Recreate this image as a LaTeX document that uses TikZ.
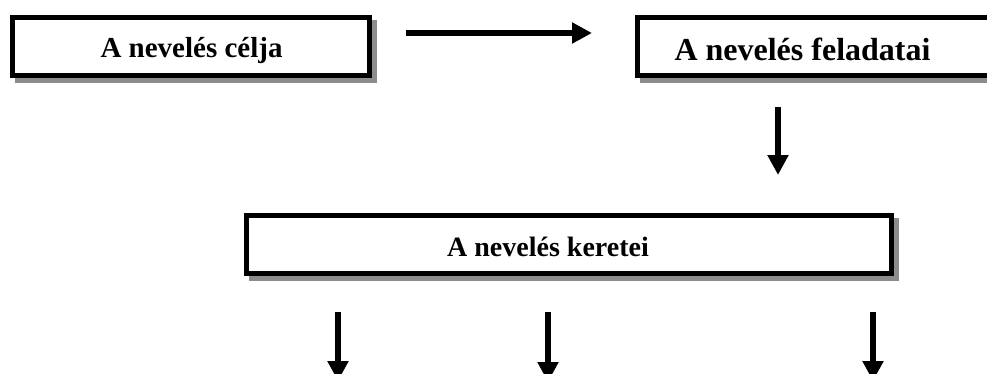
\documentclass[tikz,border=0pt]{standalone}
\usepackage{fontspec}
\setmainfont{Liberation Serif}
\usetikzlibrary{arrows.meta,backgrounds}
\definecolor{shadowgray}{HTML}{8C8C8C}
\begin{document}
\begin{tikzpicture}[x=1pt,y=-1pt,
  boxstyle/.style={draw=black, line width=5pt, fill=white, inner sep=0pt, minimum height=58pt},
  lbl/.style={font=\bfseries, anchor=base, inner sep=0pt},
  arr/.style={line width=6.5pt, -{Triangle[width=20pt,length=20pt]}},
  shadowfill/.style={fill=shadowgray}]
\useasboundingbox (0,0) rectangle (987,373);
\clip (0,0) rectangle (987,373);
% boxes
\node[boxstyle, minimum width=357pt] (b1) at (191,46.5) {};
\node[boxstyle, minimum width=362.5pt] (b2) at (818.75,46.5) {};
\node[boxstyle, minimum width=645pt] (b3) at (569,244.5) {};
% shadows
\begin{scope}[on background layer]
  \fill[shadowfill] ([shift={(5,5)}]b1.north west) rectangle ([shift={(5,5)}]b1.south east);
  \fill[shadowfill] ([shift={(5,5)}]b2.north west) rectangle ([shift={(5,5)}]b2.south east);
  \fill[shadowfill] ([shift={(5,5)}]b3.north west) rectangle ([shift={(5,5)}]b3.south east);
\end{scope}
% labels
\node[lbl, font=\fontsize{29}{34}\selectfont\bfseries] (t1) at (191.5,57.5) {A nevelés célja};
\node[lbl, font=\fontsize{32}{38}\selectfont\bfseries] (t2) at (802.5,60.5) {A nevelés feladatai};
\node[lbl, font=\fontsize{28}{33}\selectfont\bfseries] (t3) at (548,256) {A nevelés keretei};
% arrow end points
\coordinate (r1) at (406,33);
\coordinate (r2) at (592,33);
\coordinate (d1) at (778,107);
\coordinate (d2) at (778,175);
\coordinate (e1) at (338,312);
\coordinate (f1) at (338,381);
\coordinate (e2) at (548,312);
\coordinate (f2) at (548,382);
\coordinate (e3) at (873,312);
\coordinate (f3) at (873,381);
% arrows
\draw[arr] (r1) -- (r2);
\draw[arr] (d1) -- (d2);
\draw[arr] (e1) -- (f1);
\draw[arr] (e2) -- (f2);
\draw[arr] (e3) -- (f3);
\end{tikzpicture}
\end{document}
